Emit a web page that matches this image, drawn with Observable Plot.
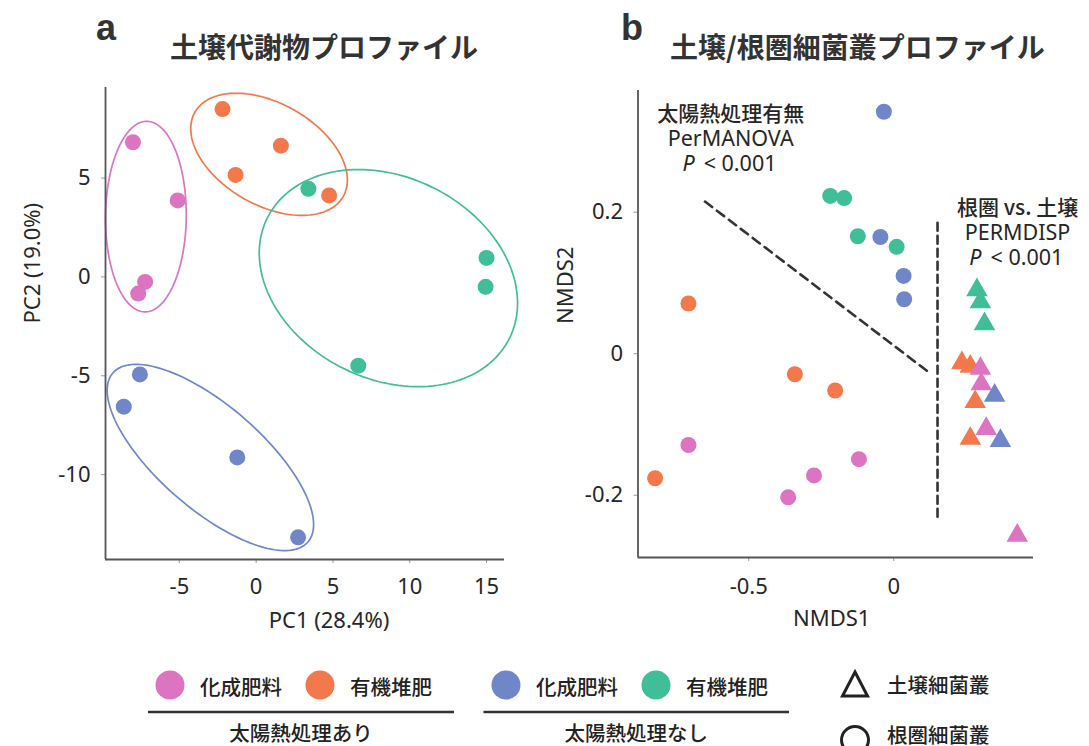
<!DOCTYPE html>
<html><head><meta charset="utf-8">
<script src="https://cdn.jsdelivr.net/npm/d3@7"></script>
<script src="https://cdn.jsdelivr.net/npm/@observablehq/plot@0.6"></script>
<style>
body{margin:0;background:#fff;}
#root{position:relative;width:1089px;height:746px;overflow:hidden;background:#fff;}
.panel{position:absolute;top:0;}
g[aria-label$="-axis tick"]{stroke:#999;}
</style></head><body>
<div id="root">
<div id="pa" class="panel" style="left:0"></div>
<div id="pb" class="panel" style="left:540px"></div>
<svg id="overlay" width="1089" height="746" style="position:absolute;left:0;top:0;pointer-events:none"></svg>
</div>
<script>
// ---------- categories ----------
const solarization = ["太陽熱処理あり", "太陽熱処理なし"];
const fertilizers = ["化成肥料", "有機堆肥"];
const groupNames = ["太陽熱処理あり・化成肥料", "太陽熱処理あり・有機堆肥", "太陽熱処理なし・化成肥料", "太陽熱処理なし・有機堆肥"];
const bacteriaTypes = ["土壌細菌叢", "根圏細菌叢"];
const palette = ["#DC74C2", "#F3784C", "#6F87C9", "#3FBE97"];

// ---------- panel a: PCA of soil metabolites ----------
const pcaGroup = [0, 0, 0, 0, 1, 1, 1, 1, 2, 2, 2, 2, 3, 3, 3, 3];
const pc1 = [-8.02, -5.11, -7.23, -7.68, -2.19, 1.61, -1.34, 4.75, -7.57, -8.62, -1.23, 2.73, 3.40, 15.0, 14.94, 6.65];
const pc2 = [6.81, 3.87, -0.25, -0.84, 8.49, 6.64, 5.16, 4.12, -4.93, -6.56, -9.13, -13.17, 4.46, 0.96, -0.50, -4.49];
// confidence ellipses (centre, x/y half-extent, correlation)
const ellipseCx = [-7.18, 0.84, -2.98, 8.61];
const ellipseCy = [3.05, 6.20, -9.13, -0.06];
const ellipseSx = [2.63, 5.10, 6.72, 8.41];
const ellipseSy = [4.82, 3.09, 4.71, 5.49];
const ellipseR = [0.02, -0.42, -0.72, -0.23];
const pcaTicksX = [-5, 0, 5, 10, 15];
const pcaTicksY = [-10, -5, 0, 5];
const pcaDomainX = [-9.81, 16.17];
const pcaDomainY = [-14.29, 9.58];

// ---------- panel b: NMDS of soil / rhizosphere bacteria ----------
const nmdsGroup = [0, 0, 0, 0, 1, 1, 1, 1, 2, 2, 2, 2, 3, 3, 3, 3,
                   3, 3, 3, 1, 1, 1, 1, 0, 0, 0, 0, 2, 2];
const nmdsType = [1, 1, 1, 1, 1, 1, 1, 1, 1, 1, 1, 1, 1, 1, 1, 1,
                  0, 0, 0, 0, 0, 0, 0, 0, 0, 0, 0, 0, 0];
const nmds1 = [-0.708, -0.120, -0.275, -0.364, -0.708, -0.341, -0.202, -0.823, -0.034, -0.046, 0.034, 0.036, -0.219, -0.171, -0.124, 0.010,
               0.287, 0.299, 0.313, 0.235, 0.264, 0.281, 0.264, 0.299, 0.302, 0.319, 0.426, 0.348, 0.368];
const nmds2 = [-0.129, -0.149, -0.172, -0.203, 0.071, -0.029, -0.052, -0.176, 0.342, 0.165, 0.110, 0.077, 0.223, 0.220, 0.166, 0.151,
               0.090, 0.073, 0.042, -0.013, -0.018, -0.068, -0.120, -0.021, -0.043, -0.106, -0.257, -0.059, -0.123];
const nmdsTicksX = [-0.5, 0];
const nmdsTicksY = [-0.2, 0, 0.2];
const nmdsDomainX = [-0.882, 0.482];
const nmdsDomainY = [-0.288, 0.372];
const divider1X = [-0.651, 0.117];
const divider1Y = [0.215, -0.025];
const divider2X = [0.151, 0.151];
const divider2Y = [0.185, -0.236];
const noteSolar = ["太陽熱処理有無", "PerMANOVA", "P", "< 0.001"];
const noteRhizo = ["根圏 vs. 土壌", "PERMDISP", "P", "< 0.001"];

// ---------- build ----------
const latin = '"Noto Sans","Noto Sans CJK JP",sans-serif';
const cjk = '"Noto Sans CJK JP","Noto Sans",sans-serif';
const fmt = d => String(d);

const pcaData = pc1.map((x, i) => ({x, y: pc2[i], g: groupNames[pcaGroup[i]]}));
const ellipsePts = [];
groupNames.forEach((g, k) => {
  for (let i = 0; i <= 160; i++) {
    const t = 2 * Math.PI * i / 160;
    const r = ellipseR[k];
    ellipsePts.push({g,
      x: ellipseCx[k] + ellipseSx[k] * Math.cos(t),
      y: ellipseCy[k] + ellipseSy[k] * (r * Math.cos(t) + Math.sqrt(1 - r * r) * Math.sin(t))});
  }
});

const pa = Plot.plot({
  width: 540, height: 650,
  marginLeft: 105, marginRight: 36, marginTop: 87, marginBottom: 91,
  style: {fontFamily: latin, fontSize: "22px", color: "#262626", background: "transparent", overflow: "visible"},
  x: {domain: pcaDomainX, ticks: pcaTicksX, tickFormat: fmt, tickSize: 4, tickPadding: 15, label: null},
  y: {domain: pcaDomainY, ticks: pcaTicksY, tickFormat: fmt, tickSize: 4, tickPadding: 11, label: null},
  color: {domain: groupNames, range: palette},
  marks: [
    Plot.line(ellipsePts, {x: "x", y: "y", z: "g", stroke: "g", strokeWidth: 1.7}),
    Plot.dot(pcaData, {x: "x", y: "y", fill: "g", r: 8}),
    Plot.ruleX([pcaDomainX[0]], {stroke: "#555", strokeWidth: 1.8}),
    Plot.ruleY([pcaDomainY[0]], {stroke: "#555", strokeWidth: 1.8}),
    Plot.text(["PC1 (28.4%)"], {text: d => d, frameAnchor: "bottom", dx: 24, dy: 68, fill: "#262626"}),
    Plot.text(["PC2 (19.0%)"], {text: d => d, frameAnchor: "left", dx: -73, rotate: -90, fill: "#262626"})
  ]
});
document.getElementById("pa").appendChild(pa);

const nmdsData = nmds1.map((x, i) => ({x, y: nmds2[i], g: groupNames[nmdsGroup[i]], s: bacteriaTypes[nmdsType[i]]}));
const annot = (txt, x, y, opts) => Plot.text([txt], Object.assign({text: d => d, x: () => x, y: () => y, fill: "#262626", lineHeight: 1}, opts));

const pb = Plot.plot({
  width: 549, height: 650,
  marginLeft: 97.5, marginRight: 56, marginTop: 90, marginBottom: 93,
  style: {fontFamily: latin, fontSize: "22px", color: "#262626", background: "transparent", overflow: "visible"},
  x: {domain: nmdsDomainX, ticks: nmdsTicksX, tickFormat: fmt, tickSize: 4, tickPadding: 17, label: null},
  y: {domain: nmdsDomainY, ticks: nmdsTicksY, tickFormat: fmt, tickSize: 4, tickPadding: 11, label: null},
  color: {domain: groupNames, range: palette},
  symbol: {domain: bacteriaTypes, range: ["triangle", "circle"]},
  marks: [
    Plot.line(divider1X.map((x, i) => ({x, y: divider1Y[i]})), {x: "x", y: "y", stroke: "#333", strokeWidth: 2.6, strokeDasharray: "9,6"}),
    Plot.line(divider2X.map((x, i) => ({x, y: divider2Y[i]})), {x: "x", y: "y", stroke: "#333", strokeWidth: 2.6, strokeDasharray: "8,5"}),
    Plot.dot(nmdsData, {x: "x", y: "y", fill: "g", symbol: "s", r: 8}),
    Plot.ruleX([nmdsDomainX[0]], {stroke: "#555", strokeWidth: 1.8}),
    Plot.ruleY([nmdsDomainY[0]], {stroke: "#555", strokeWidth: 1.8}),
    Plot.text(["NMDS1"], {text: d => d, frameAnchor: "bottom", dx: -4, dy: 68, fill: "#262626"}),
    Plot.text(["NMDS2"], {text: d => d, frameAnchor: "left", dx: -72, rotate: -90, fill: "#262626"}),
    annot(noteSolar[0], -0.5625, 0.338, {fontFamily: cjk, fontSize: 21, fontWeight: 500}),
    annot(noteSolar[1], -0.5625, 0.303, {fontSize: 21.5}),
    annot(noteSolar[2], -0.5625, 0.268, {textAnchor: "end", dx: -36, fontStyle: "italic", fontSize: 21.5}),
    annot(noteSolar[3], -0.5625, 0.268, {textAnchor: "start", dx: -27, fontSize: 21.5}),
    annot(noteRhizo[0], 0.427, 0.205, {fontFamily: cjk, fontSize: 21, fontWeight: 500}),
    annot(noteRhizo[1], 0.427, 0.170, {fontSize: 21.5}),
    annot(noteRhizo[2], 0.427, 0.135, {textAnchor: "end", dx: -36, fontStyle: "italic", fontSize: 21.5}),
    annot(noteRhizo[3], 0.427, 0.135, {textAnchor: "start", dx: -27, fontSize: 21.5})
  ]
});
document.getElementById("pb").appendChild(pb);

// ---------- titles & legend ----------
const ov = d3.select("#overlay");
const letter = (t, x) => ov.append("text").attr("x", x).attr("y", 40).text(t)
  .attr("font-family", '"Liberation Sans",Arial,sans-serif').attr("font-weight", "bold").attr("font-size", 36).attr("fill", "#333");
letter("a", 96); letter("b", 621);
const title = (t, x) => ov.append("text").attr("x", x).attr("y", 58).text(t)
  .attr("font-family", cjk).attr("font-weight", "bold").attr("font-size", 28).attr("fill", "#333");
title("土壌代謝物プロファイル", 170);
title("土壌/根圏細菌叢プロファイル", 670);

const legText = (t, x, y, anchor) => ov.append("text").attr("x", x).attr("y", y).text(t)
  .attr("font-family", cjk).attr("font-weight", 500).attr("font-size", 20.5).attr("fill", "#222")
  .attr("dominant-baseline", "central").attr("text-anchor", anchor || "start");

const blocks = [{x0: 148, x1: 454, circles: [170, 320]}, {x0: 483.5, x1: 789, circles: [506, 656]}];
blocks.forEach((b, s) => {
  b.circles.forEach((cx, f) => {
    ov.append("circle").attr("cx", cx).attr("cy", 685).attr("r", 14.5).attr("fill", palette[s * 2 + f]);
    legText(fertilizers[f], cx + 30, 686);
  });
  ov.append("line").attr("x1", b.x0).attr("x2", b.x1).attr("y1", 712).attr("y2", 712).attr("stroke", "#333").attr("stroke-width", 2.5);
  legText(solarization[s], (b.x0 + b.x1) / 2, 732, "middle");
});
const sx = 855;
ov.append("path").attr("d", `M${sx},${672} L${sx + 12.5},${696} L${sx - 12.5},${696} Z`)
  .attr("fill", "none").attr("stroke", "#222").attr("stroke-width", 3).attr("stroke-linejoin", "miter");
legText(bacteriaTypes[0], 887, 684);
ov.append("circle").attr("cx", sx).attr("cy", 740).attr("r", 13.5).attr("fill", "none").attr("stroke", "#222").attr("stroke-width", 3);
legText(bacteriaTypes[1], 887, 734);
</script>
</body></html>
